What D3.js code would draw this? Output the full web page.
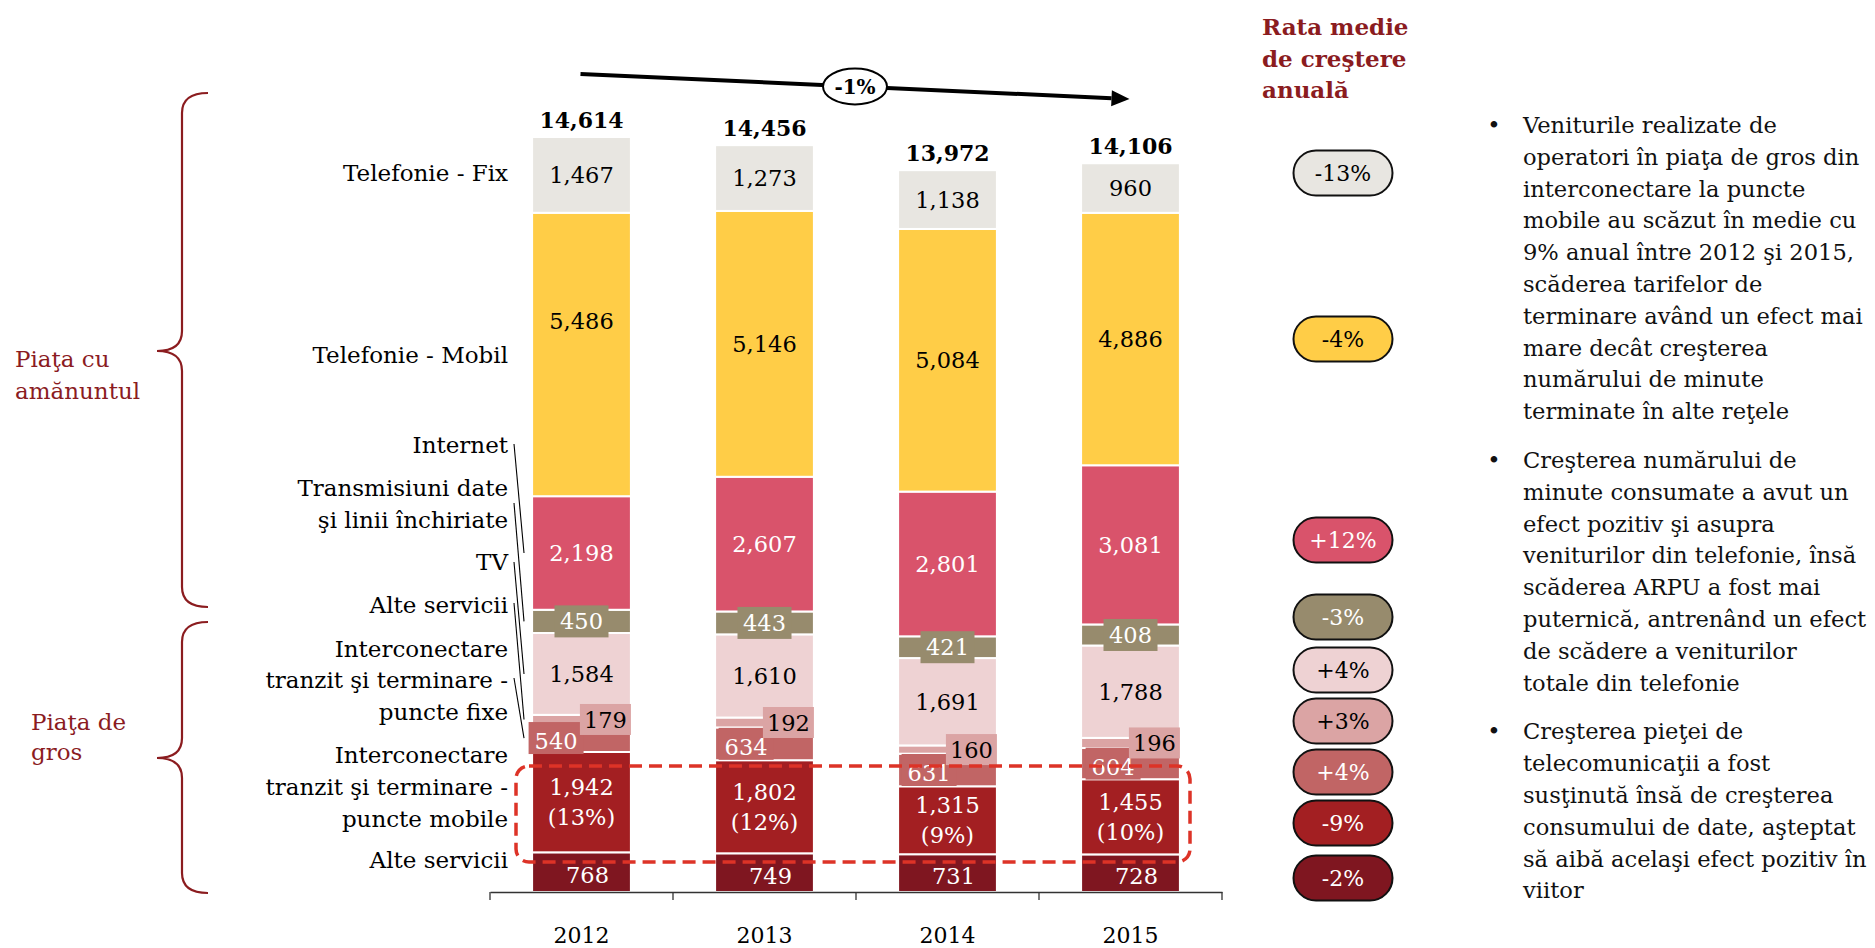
<!DOCTYPE html>
<html><head><meta charset="utf-8">
<script src="https://cdn.jsdelivr.net/npm/d3@7"></script>
<style>
body{margin:0;background:#fff;}
svg{display:block;font-family:"DejaVu Serif",serif;}
</style></head><body>
<svg id="chart" width="1875" height="948"></svg>
<script>
// ---------------- DATA ----------------
const years = ["2012", "2013", "2014", "2015"];
const altGros      = [768, 749, 731, 728];      // Alte servicii (piaţa de gros)
const interMobile  = [1942, 1802, 1315, 1455];  // Interconectare ... puncte mobile
const interFixe    = [540, 634, 631, 604];      // Interconectare ... puncte fixe
const alteServicii = [179, 192, 160, 196];      // Alte servicii (amănunt)
const tv           = [1584, 1610, 1691, 1788];
const transmisiuni = [450, 443, 421, 408];
const internet     = [2198, 2607, 2801, 3081];
const telMobil     = [5486, 5146, 5084, 4886];
const telFix       = [1467, 1273, 1138, 960];
const totals       = [14614, 14456, 13972, 14106];
const mobileShare  = ["13%", "12%", "9%", "10%"];
const growthRates  = ["-13%", "-4%", "+12%", "-3%", "+4%", "+3%", "+4%", "-9%", "-2%"]; // top -> bottom
const overallGrowth = "-1%";

const seriesKeys = ["altGros","interMobile","interFixe","alteServicii","tv","transmisiuni","internet","telMobil","telFix"];
const seriesData = {altGros, interMobile, interFixe, alteServicii, tv, transmisiuni, internet, telMobil, telFix};

// ---------------- STYLE / LAYOUT ----------------
const colors = {altGros:"#7f1620", interMobile:"#a31f22", interFixe:"#c16565", alteServicii:"#dba4a4",
  tv:"#eed2d3", transmisiuni:"#978b6d", internet:"#d9536b", telMobil:"#ffcd47", telFix:"#e8e6e1"};
const textColors = {altGros:"#fff", interMobile:"#fff", interFixe:"#fff", alteServicii:"#000",
  tv:"#000", transmisiuni:"#fff", internet:"#fff", telMobil:"#000", telFix:"#000"};
const pillOrder = ["telFix","telMobil","internet","transmisiuni","tv","alteServicii","interFixe","interMobile","altGros"];
const pillY = [173, 339, 540, 617, 670, 721, 772, 823, 878];
const darkRed = "#8b1c1f";
const FONT = "'DejaVu Serif', serif";

const svg = d3.select("#chart");
const x = d3.scaleBand().domain(years).range([490, 1222]).paddingInner(0.46).paddingOuter(0.23);
const y = d3.scaleLinear().domain([0, 14614]).range([892, 137]);

const table = years.map((yr, i) => {
  const row = {year: yr};
  seriesKeys.forEach(k => row[k] = seriesData[k][i]);
  return row;
});
const stacked = d3.stack().keys(seriesKeys)(table);

// ---------------- BARS ----------------
const gBars = svg.append("g");
stacked.forEach(s => {
  gBars.selectAll(null).data(s).join("rect")
    .attr("x", d => x(d.data.year))
    .attr("y", d => y(d[1]))
    .attr("width", x.bandwidth())
    .attr("height", d => y(d[0]) - y(d[1]))
    .attr("fill", colors[s.key])
    .attr("stroke", "#fff").attr("stroke-width", 2);
});

// ---------------- SEGMENT LABELS ----------------
const fmt = d3.format(",");
const gLab = svg.append("g").attr("font-family", FONT).attr("font-size", 22.5);
const bw = x.bandwidth();
const fixeDx = [24, 31, 31, 32];

stacked.forEach(s => {
  const key = s.key;
  s.forEach((d, i) => {
    const left = x(d.data.year), cx = left + bw / 2;
    const cy = (y(d[0]) + y(d[1])) / 2;
    const val = fmt(d.data[key]);
    const tc = textColors[key];
    if (key === "transmisiuni") {
      gLab.append("rect").attr("x", cx - 27).attr("y", cy - 16).attr("width", 54).attr("height", 32).attr("fill", colors[key]);
      gLab.append("text").attr("x", cx).attr("y", cy).attr("dy", "0.36em").attr("text-anchor", "middle").attr("fill", tc).text(val);
    } else if (key === "alteServicii") {
      gLab.append("rect").attr("x", left + bw - 51).attr("y", cy - 15.5).attr("width", 51).attr("height", 31).attr("fill", colors[key]);
      gLab.append("text").attr("x", left + bw - 25.5).attr("y", cy).attr("dy", "0.36em").attr("text-anchor", "middle").attr("fill", tc).text(val);
    } else if (key === "interFixe") {
      const tx = left + fixeDx[i];
      gLab.append("rect").attr("x", tx - 27.5).attr("y", cy - 16).attr("width", 55).attr("height", 32).attr("fill", colors[key]);
      gLab.append("text").attr("x", tx).attr("y", cy + 3).attr("dy", "0.36em").attr("text-anchor", "middle").attr("fill", tc).text(val);
    } else if (key === "interMobile") {
      gLab.append("text").attr("x", cx).attr("y", cy - 15).attr("dy", "0.36em").attr("text-anchor", "middle").attr("fill", tc).text(val);
      gLab.append("text").attr("x", cx).attr("y", cy + 15).attr("dy", "0.36em").attr("text-anchor", "middle").attr("fill", tc).text("(" + mobileShare[i] + ")");
    } else if (key === "altGros") {
      gLab.append("text").attr("x", cx + 6).attr("y", cy + 3).attr("dy", "0.36em").attr("text-anchor", "middle").attr("fill", tc).text(val);
    } else {
      const dy = (key === "telMobil" && i === 0) ? -34 : 0;
      gLab.append("text").attr("x", cx).attr("y", cy + dy).attr("dy", "0.36em").attr("text-anchor", "middle").attr("fill", tc).text(val);
    }
  });
});

// totals
svg.append("g").selectAll("text").data(years).join("text")
  .attr("x", d => x(d) + bw / 2)
  .attr("y", (d, i) => y(totals[i]) - 9)
  .attr("text-anchor", "middle").attr("font-family", FONT).attr("font-weight", "bold").attr("font-size", 22)
  .text((d, i) => fmt(totals[i]));

// dashed highlight rectangle
svg.append("rect").attr("x", 516).attr("y", 766).attr("width", 674).attr("height", 96).attr("rx", 13)
  .attr("fill", "none").attr("stroke", "#dd3327").attr("stroke-width", 3.5).attr("stroke-dasharray", "13 7");

// ---------------- AXIS ----------------
const axisG = svg.append("g").attr("transform", "translate(0,892)")
  .call(d3.axisBottom(x).tickSize(0).tickSizeOuter(0).tickPadding(35));
axisG.select(".domain").attr("stroke", "#333").attr("stroke-width", 1.3);
axisG.selectAll("text").attr("font-family", FONT).attr("font-size", 22).attr("fill", "#000");
const step = x.step();
const bounds = years.map(d => x(d) - (step - bw) / 2).concat([x(years[3]) + bw + (step - bw) / 2]);
axisG.selectAll(".btick").data(bounds).join("line").attr("class", "btick")
  .attr("x1", d => d).attr("x2", d => d).attr("y1", 0).attr("y2", 8).attr("stroke", "#333").attr("stroke-width", 1.3);

// ---------------- ARROW ----------------
const ax0 = x("2012") + bw / 2 - 1, ay0 = 74, ax1 = x("2015") + bw / 2 - 1, ay1 = 99;
const ang = Math.atan2(ay1 - ay0, ax1 - ax0);
const hl = 18, hw = 8;
const bxp = ax1 - hl * Math.cos(ang), byp = ay1 - hl * Math.sin(ang);
svg.append("line").attr("x1", ax0).attr("y1", ay0).attr("x2", bxp).attr("y2", byp).attr("stroke", "#000").attr("stroke-width", 4);
svg.append("polygon").attr("points", [
  [ax1, ay1],
  [bxp + hw * Math.sin(ang), byp - hw * Math.cos(ang)],
  [bxp - hw * Math.sin(ang), byp + hw * Math.cos(ang)]
].map(p => p.join(",")).join(" ")).attr("fill", "#000");
const ex = 855, ey = ay0 + (ex - ax0) / (ax1 - ax0) * (ay1 - ay0);
svg.append("ellipse").attr("cx", ex).attr("cy", ey).attr("rx", 32).attr("ry", 18).attr("fill", "#fff").attr("stroke", "#000").attr("stroke-width", 2);
svg.append("text").attr("x", ex).attr("y", ey).attr("dy", "0.36em").attr("text-anchor", "middle")
  .attr("font-family", FONT).attr("font-weight", "bold").attr("font-size", 20).text(overallGrowth);

// ---------------- LEFT CATEGORY LABELS ----------------
const leftLabels = [
  {lines: ["Telefonie - Fix"], ys: [181]},
  {lines: ["Telefonie - Mobil"], ys: [363]},
  {lines: ["Internet"], ys: [453]},
  {lines: ["Transmisiuni date", "şi linii închiriate"], ys: [496, 528]},
  {lines: ["TV"], ys: [570]},
  {lines: ["Alte servicii"], ys: [613]},
  {lines: ["Interconectare", "tranzit şi terminare -", "puncte fixe"], ys: [657, 688, 720]},
  {lines: ["Interconectare", "tranzit şi terminare -", "puncte mobile"], ys: [763, 795, 827]},
  {lines: ["Alte servicii"], ys: [868]}
];
const gLeft = svg.append("g").attr("font-family", FONT).attr("font-size", 23).attr("text-anchor", "end");
leftLabels.forEach(l => l.lines.forEach((t, j) => gLeft.append("text").attr("x", 508).attr("y", l.ys[j]).text(t)));

// leader lines to the 2012 bar
const leaderKeys = ["internet", "transmisiuni", "tv", "alteServicii", "interFixe"];
const leaderStartY = [444, 503, 562, 603, 678];
leaderKeys.forEach((k, i) => {
  const s = stacked.find(q => q.key === k)[0];
  const endY = (y(s[0]) + y(s[1])) / 2;
  svg.append("line").attr("x1", 514).attr("y1", leaderStartY[i]).attr("x2", 524).attr("y2", endY)
    .attr("stroke", "#000").attr("stroke-width", 1.1);
});

// ---------------- BRACES ----------------
function brace(xv, top, bottom, tipY, hookX, tipX) {
  const r = 20;
  return `M${hookX},${top} Q${xv},${top} ${xv},${top + r} L${xv},${tipY - r} Q${xv},${tipY} ${tipX},${tipY} Q${xv},${tipY} ${xv},${tipY + r} L${xv},${bottom - r} Q${xv},${bottom} ${hookX},${bottom}`;
}
svg.append("path").attr("d", brace(182, 93, 607, 351, 208, 157)).attr("fill", "none").attr("stroke", darkRed).attr("stroke-width", 2.2);
svg.append("path").attr("d", brace(182, 622, 893, 758, 208, 157)).attr("fill", "none").attr("stroke", darkRed).attr("stroke-width", 2.2);
const gBr = svg.append("g").attr("font-family", FONT).attr("font-size", 23).attr("fill", darkRed);
gBr.append("text").attr("x", 15).attr("y", 367).text("Piaţa cu");
gBr.append("text").attr("x", 15).attr("y", 399).text("amănuntul");
gBr.append("text").attr("x", 31).attr("y", 730).text("Piaţa de");
gBr.append("text").attr("x", 31).attr("y", 760).text("gros");

// ---------------- GROWTH HEADER + PILLS ----------------
const gHead = svg.append("g").attr("font-family", FONT).attr("font-weight", "bold").attr("font-size", 23).attr("fill", darkRed);
["Rata medie", "de creştere", "anuală"].forEach((t, i) => gHead.append("text").attr("x", 1262).attr("y", 35 + i * 31.5).text(t));

const gPill = svg.append("g").selectAll("g").data(pillOrder).join("g")
  .attr("transform", (d, i) => `translate(1343,${pillY[i]})`);
gPill.append("rect").attr("x", -49.5).attr("y", -22.5).attr("width", 99).attr("height", 45).attr("rx", 22.5)
  .attr("fill", d => colors[d]).attr("stroke", "#111").attr("stroke-width", 2);
gPill.append("text").attr("text-anchor", "middle").attr("dy", "0.36em").attr("font-family", FONT).attr("font-size", 22)
  .attr("fill", d => textColors[d]).text((d, i) => growthRates[i]);

// ---------------- RIGHT COMMENTARY ----------------
const bullets = [
  ["Veniturile realizate de", "operatori în piaţa de gros din", "interconectare la puncte", "mobile au scăzut în medie cu", "9% anual între 2012 şi 2015,", "scăderea tarifelor de", "terminare având un efect mai", "mare decât creşterea", "numărului de minute", "terminate în alte reţele"],
  ["Creşterea numărului de", "minute consumate a avut un", "efect pozitiv şi asupra", "veniturilor din telefonie, însă", "scăderea ARPU a fost mai", "puternică, antrenând un efect", "de scădere a veniturilor", "totale din telefonie"],
  ["Creşterea pieţei de", "telecomunicaţii a fost", "susţinută însă de creşterea", "consumului de date, aşteptat", "să aibă acelaşi efect pozitiv în", "viitor"]
];
const gTxt = svg.append("g").attr("font-family", FONT).attr("font-size", 22.6).attr("fill", "#111");
let by = 133;
bullets.forEach(b => {
  gTxt.append("text").attr("x", 1494).attr("y", by).attr("text-anchor", "middle").text("•");
  b.forEach((t, j) => gTxt.append("text").attr("x", 1523).attr("y", by + j * 31.8).text(t));
  by += b.length * 31.8 + 17;
});
</script>
</body></html>
